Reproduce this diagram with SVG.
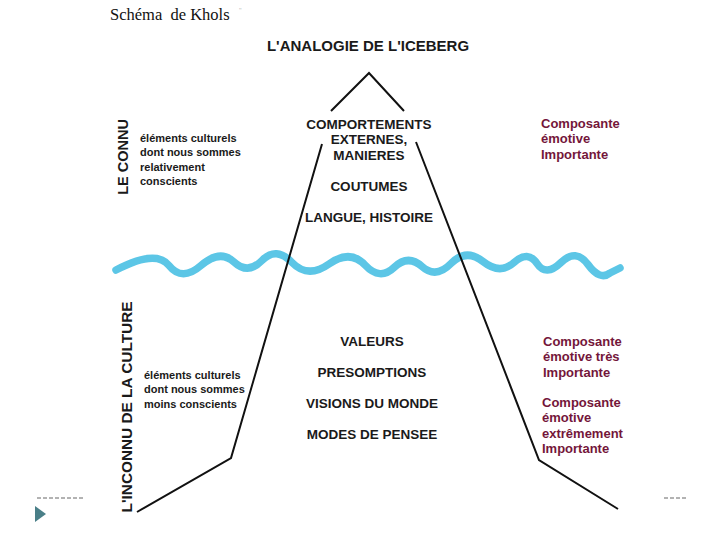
<svg xmlns="http://www.w3.org/2000/svg" width="720" height="540" viewBox="0 0 720 540">
<style>
.t{font-family:"Liberation Sans",Arial,sans-serif;font-weight:bold;fill:#1a1a1a}
.c{font-size:13.5px;text-anchor:middle}
.s{font-size:11px}
.r{font-size:13px;fill:#74163a}
.v{font-size:14.5px}
.ln{fill:none;stroke:#111;stroke-width:2;stroke-linejoin:miter}
.dash{stroke:#666;stroke-width:1;stroke-dasharray:4 2}
</style>
<rect width="720" height="540" fill="#fff"/>
<g id="header">
<text x="110" y="20" font-family="'Liberation Serif','Times New Roman',serif" font-size="16.5" fill="#111" xml:space="preserve">Schéma  de Khols</text>
<text x="239" y="13" font-family="'Liberation Sans',sans-serif" font-size="7" fill="#bbb">''</text>
<text class="t" x="368" y="51" font-size="15" text-anchor="middle">L'ANALOGIE DE L'ICEBERG</text>
</g>
<g id="water">
<path fill="none" stroke="#5cc6e6" stroke-width="7.5" stroke-linecap="round" stroke-linejoin="round" d="M116,270 Q156,249 169,265.5 Q182,282 201,265.5 Q220,249 234,262 Q248,275 262,260.5 Q276,246 292,262.5 Q308,279 329,264 Q350,249 365,265 Q380,281 394,267.5 Q408,254 422,266.5 Q436,279 451,263.5 Q466,248 483,261.5 Q500,275 514,262.5 Q528,250 537,263.5 Q546,277 561,262.5 Q576,248 588,264.5 Q600,281 610,273 L620,268"/>
</g>
<g id="iceberg">
<polyline class="ln" points="331,111 369,73 404,111"/>
<polyline class="ln" points="322,144 231,458 137,512"/>
<polyline class="ln" points="416,142 539,460 618,509"/>
</g>
<g id="visible">
<text class="t c" x="369" y="129">COMPORTEMENTS</text>
<text class="t c" x="369" y="144">EXTERNES,</text>
<text class="t c" x="369" y="160">MANIERES</text>
<text class="t c" x="369" y="191">COUTUMES</text>
<text class="t c" x="369" y="222">LANGUE, HISTOIRE</text>
</g>
<g id="hidden">
<text class="t c" x="372" y="346">VALEURS</text>
<text class="t c" x="372" y="377">PRESOMPTIONS</text>
<text class="t c" x="372" y="408">VISIONS DU MONDE</text>
<text class="t c" x="372" y="439">MODES DE PENSEE</text>
</g>
<g id="le-connu">
<text class="t v" transform="translate(128,157) rotate(-90)" text-anchor="middle">LE CONNU</text>
<text class="t s" x="140" y="142">éléments culturels</text>
<text class="t s" x="140" y="156">dont nous sommes</text>
<text class="t s" x="140" y="171">relativement</text>
<text class="t s" x="140" y="185">conscients</text>
</g>
<g id="inconnu">
<text class="t v" transform="translate(132,407) rotate(-90)" text-anchor="middle" textLength="211" lengthAdjust="spacingAndGlyphs">L'INCONNU DE LA CULTURE</text>
<text class="t s" x="144" y="379">éléments culturels</text>
<text class="t s" x="144" y="393">dont nous sommes</text>
<text class="t s" x="144" y="408">moins conscients</text>
</g>
<g id="emotive-1">
<text class="t r" x="541" y="128">Composante</text>
<text class="t r" x="541" y="143">émotive</text>
<text class="t r" x="541" y="159">Importante</text>
</g>
<g id="emotive-2">
<text class="t r" x="543" y="346">Composante</text>
<text class="t r" x="543" y="361">émotive très</text>
<text class="t r" x="543" y="377">Importante</text>
</g>
<g id="emotive-3">
<text class="t r" x="542" y="407">Composante</text>
<text class="t r" x="542" y="422">émotive</text>
<text class="t r" x="542" y="438">extrêmement</text>
<text class="t r" x="542" y="453">Importante</text>
</g>
<g id="footer">
<line class="dash" x1="37" y1="498" x2="83" y2="498"/>
<line class="dash" x1="664" y1="498" x2="686" y2="498"/>
<polygon points="35,506 46,514 35,522" fill="#4a7f88"/>
</g>
</svg>
